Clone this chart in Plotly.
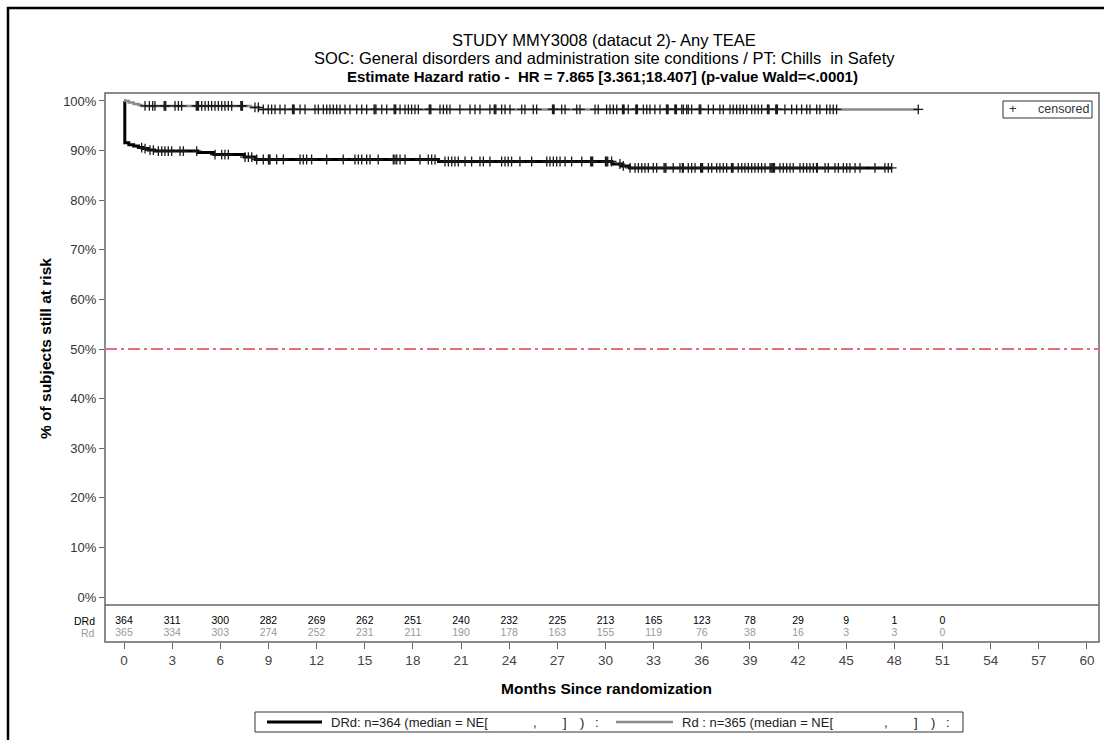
import numpy as np
import plotly.graph_objects as go

# ---- Kaplan-Meier estimates (months, % still at risk) ----
drd_time = [0, 0.05, 0.3, 0.6, 0.9, 1.2, 1.5, 1.9, 4.6, 5.6, 7.5, 8.2, 19.6, 30.4, 31.0, 31.5, 47.83]
drd_surv = [100, 91.6, 91.2, 90.9, 90.6, 90.4, 90.1, 89.9, 89.6, 89.2, 88.7, 88.2, 87.8, 87.3, 86.9, 86.5, 86.5]

rd_time = [0, 0.3, 0.6, 0.9, 1.1, 7.9, 8.4, 49.49]
rd_surv = [100, 99.7, 99.4, 99.2, 99.0, 98.7, 98.3, 98.3]

# ---- censoring times (months) ----
drd_censor = [
    1.10, 1.31, 1.62, 1.83, 2.14, 2.35, 2.55, 2.76, 2.97, 3.49, 3.70, 4.53, 5.67, 6.09, 6.29,
    6.50, 7.54, 7.75, 7.96, 8.27, 8.68, 9.00, 9.05, 9.10, 9.51, 9.93, 10.97, 11.17, 11.38, 11.69,
    12.63, 13.66, 14.39, 14.60, 14.81, 15.12, 15.33, 15.84, 16.88, 16.78, 16.99, 17.20, 17.51,
    18.44, 18.96, 19.17, 19.38, 20.00, 20.21, 20.42, 20.62, 20.83, 21.25, 21.66, 22.18, 22.39,
    22.80, 23.53, 23.74, 23.94, 24.15, 24.67, 25.40, 26.34, 26.54, 26.75, 26.96, 27.17, 27.48,
    27.89, 28.52, 29.08, 29.14, 29.20, 30.00, 30.07, 30.14, 30.38, 30.90, 31.11, 31.53, 31.84,
    32.05, 32.26, 32.46, 32.67, 32.98, 33.19, 33.65, 33.71, 33.77, 34.22, 34.64, 34.79, 34.85,
    35.16, 35.37, 35.58, 35.93, 35.99, 36.05, 36.41, 36.62, 36.93, 37.13, 37.34, 37.55, 37.85,
    37.90, 37.95, 38.27, 38.49, 38.69, 38.90, 39.11, 39.31, 39.52, 39.73, 39.94, 40.25, 40.32,
    40.39, 40.46, 40.53, 40.87, 41.08, 41.29, 41.50, 41.70, 42.12, 42.33, 42.54, 42.74, 42.95,
    43.15, 43.20, 43.68, 43.88, 44.30, 44.51, 44.82, 45.03, 45.23, 45.55, 45.86, 46.79, 47.41,
    47.62, 47.83,
]
rd_censor = [
    1.31, 1.58, 1.79, 1.93, 2.50, 2.55, 2.60, 3.18, 3.39, 3.59, 4.50, 4.57, 4.64, 4.84, 5.05,
    5.26, 5.46, 5.67, 5.88, 6.09, 6.29, 6.50, 6.71, 7.28, 7.33, 7.38, 8.16, 8.37, 8.68, 8.99,
    9.20, 9.41, 9.72, 10.03, 10.50, 10.55, 10.60, 10.97, 11.28, 11.90, 12.11, 12.42, 12.63,
    12.83, 13.04, 13.25, 13.46, 13.77, 14.08, 14.50, 14.81, 15.12, 15.58, 15.64, 15.70, 16.06,
    16.37, 16.83, 16.88, 16.93, 17.20, 17.51, 17.72, 17.92, 18.13, 18.34, 19.02, 19.07, 19.12,
    19.69, 19.90, 20.11, 20.31, 20.93, 21.56, 21.87, 22.18, 22.80, 23.07, 23.12, 23.17, 23.53,
    23.74, 24.05, 24.78, 24.98, 25.50, 25.71, 26.70, 26.75, 26.80, 27.27, 27.48, 28.21, 28.41,
    29.35, 29.55, 30.07, 30.28, 30.49, 30.70, 31.06, 31.11, 31.16, 31.42, 31.89, 31.94, 31.99,
    32.36, 32.57, 32.77, 33.08, 33.40, 33.80, 33.85, 33.90, 34.32, 34.37, 34.42, 34.75, 34.85,
    35.06, 35.16, 35.37, 35.84, 35.89, 35.94, 36.41, 36.72, 37.13, 37.34, 37.76, 37.96, 38.17,
    38.38, 38.59, 38.80, 39.11, 39.31, 39.52, 39.73, 40.09, 40.14, 40.19, 40.61, 40.66, 40.71,
    41.18, 41.60, 41.91, 42.22, 42.54, 42.74, 43.16, 43.36, 43.78, 43.99, 44.19, 44.40, 49.49,
]

# ---- numbers at risk ----
risk_months = [0, 3, 6, 9, 12, 15, 18, 21, 24, 27, 30, 33, 36, 39, 42, 45, 48, 51]
drd_at_risk = [364, 311, 300, 282, 269, 262, 251, 240, 232, 225, 213, 165, 123, 78, 29, 9, 1, 0]
rd_at_risk = [365, 334, 303, 274, 252, 231, 211, 190, 178, 163, 155, 119, 76, 38, 16, 3, 3, 0]

x_ticks = list(range(0, 61, 3))
y_ticks = list(range(0, 101, 10))
y_tick_labels = [f"{v}%" for v in y_ticks]
reference_level = 50

arm_labels = ["DRd", "Rd"]
arm_n = [364, 365]

# ---- page geometry (pixels) ----
W, H = 1104, 740
PL, PR, PT, PB = 105, 1099, 93, 642   # plot frame incl. at-risk box
SPLIT = 605                           # line between curves and at-risk box
FONT = "Liberation Sans, Arial, sans-serif"
DRD_COLOR, RD_COLOR = "black", "#8a8a8a"
FRAME = "#666666"


def px(xp):
    return (xp - PL) / (PR - PL)


def py(yp):
    return (PB - yp) / (PB - PT)


def step_value(times, surv, t):
    idx = np.searchsorted(np.asarray(times), np.asarray(t), side="right") - 1
    return np.asarray(surv)[idx]


split_frac = py(SPLIT)

fig = go.Figure()

# survival curves
fig.add_trace(go.Scatter(
    x=drd_time, y=drd_surv, mode="lines", line=dict(color=DRD_COLOR, width=3, shape="hv"),
    showlegend=False, hoverinfo="skip"))
fig.add_trace(go.Scatter(
    x=rd_time, y=rd_surv, mode="lines", line=dict(color=RD_COLOR, width=2.5, shape="hv"),
    showlegend=False, hoverinfo="skip"))

# censor marks
censor_marker = dict(symbol="cross-thin", size=7, line=dict(color="#1a1a1a", width=1.3))
fig.add_trace(go.Scatter(
    x=rd_censor, y=step_value(rd_time, rd_surv, rd_censor), mode="markers",
    marker=censor_marker, showlegend=False, hoverinfo="skip"))
fig.add_trace(go.Scatter(
    x=drd_censor, y=step_value(drd_time, drd_surv, drd_censor), mode="markers",
    marker=censor_marker, showlegend=False, hoverinfo="skip"))

# at-risk table rows
ROW_DRD, ROW_RD = 0.57, 0.24
fig.add_trace(go.Scatter(
    x=risk_months, y=[ROW_DRD] * len(risk_months), yaxis="y2", mode="text",
    text=[str(v) for v in drd_at_risk], textfont=dict(family=FONT, size=10.5, color="black"),
    showlegend=False, hoverinfo="skip", cliponaxis=False))
fig.add_trace(go.Scatter(
    x=risk_months, y=[ROW_RD] * len(risk_months), yaxis="y2", mode="text",
    text=[str(v) for v in rd_at_risk], textfont=dict(family=FONT, size=10.5, color="#999999"),
    showlegend=False, hoverinfo="skip", cliponaxis=False))

shapes = [
    # outer page frame
    dict(type="rect", xref="paper", yref="paper", x0=px(8), x1=px(1112), y0=py(750), y1=py(8),
         line=dict(color="black", width=2.5), layer="below"),
    # plot frame and at-risk separator
    dict(type="rect", xref="paper", yref="paper", x0=0, x1=1, y0=0, y1=1,
         line=dict(color=FRAME, width=1.5)),
    dict(type="line", xref="paper", yref="paper", x0=0, x1=1, y0=split_frac, y1=split_frac,
         line=dict(color=FRAME, width=1.5)),
    # 50% reference line
    dict(type="line", xref="paper", yref="y", x0=0, x1=1, y0=reference_level, y1=reference_level,
         line=dict(color="#e0707c", width=2, dash="12px,4px,3px,4px")),
    # curve legend (bottom)
    dict(type="rect", xref="paper", yref="paper", x0=px(255), x1=px(963), y0=py(732), y1=py(712),
         line=dict(color="#333333", width=1)),
    dict(type="line", xref="paper", yref="paper", x0=px(267), x1=px(322), y0=py(722), y1=py(722),
         line=dict(color=DRD_COLOR, width=3)),
    dict(type="line", xref="paper", yref="paper", x0=px(616), x1=px(673), y0=py(722), y1=py(722),
         line=dict(color=RD_COLOR, width=2.5)),
    # censor legend (top right)
    dict(type="rect", xref="paper", yref="paper", x0=px(1003), x1=px(1092), y0=py(118), y1=py(101),
         line=dict(color="#333333", width=1)),
]


def ann(text, xp, yp, size, color="black", anchor="center", bold=False, **kw):
    d = dict(text=f"<b>{text}</b>" if bold else text, xref="paper", yref="paper",
             x=px(xp), y=py(yp), xanchor=anchor, yanchor="middle", showarrow=False,
             font=dict(family=FONT, size=size, color=color))
    d.update(kw)
    return d


annotations = [
    ann("STUDY MMY3008 (datacut 2)- Any TEAE", 604, 39.5, 16.5),
    ann("SOC: General disorders and administration site conditions / PT: Chills \u00a0in Safety", 604, 58, 16.5),
    ann("Estimate Hazard ratio - \u00a0HR = 7.865 [3.361;18.407] (p-value Wald=&lt;.0001)", 602, 76.5, 15, bold=True),
    ann("Months Since randomization", 606, 688, 15.5, bold=True),
    ann("+", 1013, 109, 13, color="#333333"),
    ann("censored", 1036, 109, 12.5, color="#333333", anchor="left"),
]

# at-risk row labels
annotations.append(dict(text=arm_labels[0], xref="paper", yref="y2", x=px(97), y=ROW_DRD,
                        xanchor="right", yanchor="middle", showarrow=False,
                        font=dict(family=FONT, size=10.5, color="black")))
annotations.append(dict(text=arm_labels[1], xref="paper", yref="y2", x=px(97), y=ROW_RD,
                        xanchor="right", yanchor="middle", showarrow=False,
                        font=dict(family=FONT, size=10.5, color="#999999")))

# curve legend entries: label, then bracket pieces of the empty median CI
for label, n, x0 in [(arm_labels[0] + ":", arm_n[0], 329), (arm_labels[1] + " :", arm_n[1], 680)]:
    annotations.append(ann(f"{label} n={n} (median = NE[", x0, 722, 13, color="#222222", anchor="left"))
    for piece, off in [(",", 206), ("]", 236), (")", 253), (":", 268)]:
        annotations.append(ann(piece, x0 + off, 722, 13, color="#222222"))

annotations.append(dict(
    text="<b>% of subjects still at risk</b>", xref="paper", yref="y", x=px(45), y=reference_level,
    textangle=-90, showarrow=False, xanchor="center", yanchor="middle",
    font=dict(family=FONT, size=15.5, color="black")))

fig.update_layout(
    width=W, height=H, autosize=False,
    margin=dict(l=PL, r=W - PR, t=PT, b=H - PB, pad=0),
    paper_bgcolor="white", plot_bgcolor="white",
    font=dict(family=FONT, size=12, color="#333333"),
    shapes=shapes, annotations=annotations, showlegend=False,
    xaxis=dict(
        range=[-1.184, 60.75], anchor="y2", tickmode="array", tickvals=x_ticks,
        ticks="outside", ticklen=6, tickcolor=FRAME, tickwidth=1, showgrid=False, zeroline=False,
        showline=False, tickfont=dict(family=FONT, size=13.5, color="#444444")),
    yaxis=dict(
        domain=[split_frac, 1], range=[-1.61, 101.61], tickmode="array", tickvals=y_ticks,
        ticktext=y_tick_labels, ticks="outside", ticklen=5, tickcolor=FRAME, tickwidth=1,
        showgrid=False, zeroline=False, showline=False,
        tickfont=dict(family=FONT, size=13, color="#333333")),
    yaxis2=dict(domain=[0, split_frac], range=[0, 1], showticklabels=False, ticks="",
                showgrid=False, zeroline=False, showline=False),
)

fig.write_html("out.html")
